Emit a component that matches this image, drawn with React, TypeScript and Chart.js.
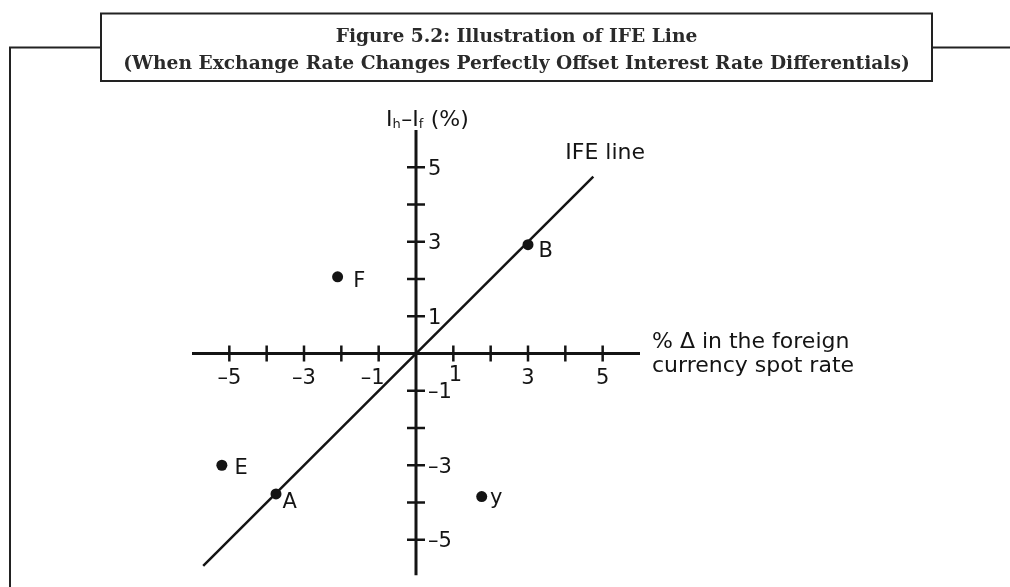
import React, { useEffect, useRef } from "react";
import { Chart, registerables } from "chart.js";

Chart.register(...registerables);

// ---- data ----
const titleLines = [
  "Figure 5.2: Illustration of IFE Line",
  "(When Exchange Rate Changes Perfectly Offset Interest Rate Differentials)",
];
const xTickValues = [-5, -4, -3, -2, -1, 1, 2, 3, 4, 5];
const yTickValues = [-5, -4, -3, -2, -1, 1, 2, 3, 4, 5];
const xLabelValues = [-5, -3, -1, 1, 3, 5];
const xTickLabels = ["–5", "–3", "–1", "1", "3", "5"];
const yLabelValues = [5, 3, 1, -1, -3, -5];
const yTickLabels = ["5", "3", "1", "–1", "–3", "–5"];
const ifeX = [-5.7, 4.75];
const ifeY = [-5.7, 4.75];
const pointNames = ["F", "B", "E", "A", "y"];
const pointX = [-2.1, 3, -5.2, -3.75, 1.76];
const pointY = [2.06, 2.92, -3, -3.77, -3.84];
const lineLabel = "IFE line";
const xAxisTitle = ["% Δ in the foreign", "currency spot rate"];

// label placement (style, not data)
const labelOffsets: Record<string, [number, number]> = {
  F: [15.6, 10],
  B: [10.6, 12.6],
  E: [12.6, 8.3],
  A: [6.6, 14.3],
  y: [8.3, 7.3],
};

const INK = "#141414";
const SANS = "'DejaVu Sans', sans-serif";
const SERIF = "'DejaVu Serif', serif";

const figurePlugin = {
  id: "figurePlugin",
  beforeDatasetsDraw(chart: any) {
    const { ctx, scales } = chart;
    const xs = scales.x;
    const ys = scales.y;
    const x0 = xs.getPixelForValue(0);
    const y0 = ys.getPixelForValue(0);
    ctx.save();
    ctx.strokeStyle = INK;
    ctx.lineCap = "butt";
    // axes
    ctx.lineWidth = 3;
    ctx.beginPath();
    ctx.moveTo(xs.getPixelForValue(-6), y0);
    ctx.lineTo(xs.getPixelForValue(6), y0);
    ctx.moveTo(x0, ys.getPixelForValue(6));
    ctx.lineTo(x0, ys.getPixelForValue(-5.95));
    ctx.stroke();
    // ticks
    ctx.lineWidth = 2.5;
    ctx.beginPath();
    xTickValues.forEach((v) => {
      const px = xs.getPixelForValue(v);
      ctx.moveTo(px, y0 - 8);
      ctx.lineTo(px, y0 + 8);
    });
    yTickValues.forEach((v) => {
      const py = ys.getPixelForValue(v);
      ctx.moveTo(x0 - 9, py);
      ctx.lineTo(x0 + 9, py);
    });
    ctx.stroke();
    // tick labels
    ctx.fillStyle = INK;
    ctx.font = `21px ${SANS}`;
    ctx.textBaseline = "alphabetic";
    ctx.textAlign = "center";
    xLabelValues.forEach((v, i) => {
      let dx = 0;
      let dy = 0;
      if (v === -1) dx = -6;
      if (v === 1) {
        dx = 2;
        dy = -3;
      }
      ctx.fillText(xTickLabels[i], xs.getPixelForValue(v) + dx, y0 + 30 + dy);
    });
    ctx.textAlign = "left";
    yLabelValues.forEach((v, i) => {
      ctx.fillText(yTickLabels[i], x0 + 12, ys.getPixelForValue(v) + 7.5);
    });
    ctx.restore();
  },
  afterDatasetsDraw(chart: any) {
    const { ctx, scales } = chart;
    const xs = scales.x;
    const ys = scales.y;
    const x0 = xs.getPixelForValue(0);
    ctx.save();
    ctx.fillStyle = INK;
    ctx.textBaseline = "alphabetic";
    ctx.textAlign = "left";
    // point labels
    ctx.font = `21px ${SANS}`;
    pointNames.forEach((n, i) => {
      const off = labelOffsets[n] || [8, 7];
      ctx.fillText(
        n,
        xs.getPixelForValue(pointX[i]) + off[0],
        ys.getPixelForValue(pointY[i]) + off[1]
      );
    });
    // IFE line label
    ctx.font = `22px ${SANS}`;
    const endX = xs.getPixelForValue(ifeX[1]);
    const endY = ys.getPixelForValue(ifeY[1]);
    ctx.fillText(lineLabel, endX - 28, endY - 18);
    // x axis title
    const xEnd = xs.getPixelForValue(6);
    const y0 = ys.getPixelForValue(0);
    ctx.fillText(xAxisTitle[0], xEnd + 12, y0 - 6);
    ctx.fillText(xAxisTitle[1], xEnd + 12, y0 + 18.5);
    // y axis title: I_h–I_f (%)
    const yTop = ys.getPixelForValue(6);
    let cx = x0 - 30;
    const base = yTop - 4;
    const big = `22px ${SANS}`;
    const small = `13px ${SANS}`;
    const parts: [string, boolean][] = [
      ["I", false],
      ["h", true],
      ["–I", false],
      ["f", true],
      [" (%)", false],
    ];
    parts.forEach(([t, sub]) => {
      ctx.font = sub ? small : big;
      ctx.fillText(t, cx, sub ? base + 2 : base);
      cx += ctx.measureText(t).width + (sub ? 0.5 : 0);
    });
    ctx.restore();
  },
  afterDraw(chart: any) {
    const { ctx } = chart;
    ctx.save();
    ctx.strokeStyle = "#222";
    ctx.lineWidth = 2;
    // outer frame
    ctx.beginPath();
    ctx.moveTo(10, 587);
    ctx.lineTo(10, 47.5);
    ctx.lineTo(101, 47.5);
    ctx.moveTo(932, 47.5);
    ctx.lineTo(1010, 47.5);
    ctx.stroke();
    ctx.strokeRect(101, 13.5, 831, 67.5);
    // title, sized so the long line spans the box like the reference
    ctx.fillStyle = "#2a2a2a";
    ctx.textAlign = "center";
    ctx.textBaseline = "alphabetic";
    ctx.font = `bold 18px ${SERIF}`;
    const w = ctx.measureText(titleLines[1]).width;
    const size = Math.min(19, (18 * 787) / w);
    ctx.font = `bold ${size.toFixed(2)}px ${SERIF}`;
    ctx.fillText(titleLines[0], 516.5, 41.5);
    ctx.fillText(titleLines[1], 516.5, 68.5);
    ctx.restore();
  },
};

export default function App() {
  const ref = useRef<HTMLCanvasElement | null>(null);
  useEffect(() => {
    if (!ref.current) return;
    const chart = new Chart(ref.current, {
      type: "scatter",
      data: {
        datasets: [
          {
            type: "line",
            label: lineLabel,
            data: ifeX.map((x, i) => ({ x, y: ifeY[i] })),
            borderColor: INK,
            borderWidth: 2.5,
            pointRadius: 0,
            fill: false,
          },
          {
            type: "scatter",
            label: "points",
            data: pointX.map((x, i) => ({ x, y: pointY[i] })),
            backgroundColor: INK,
            borderColor: INK,
            pointRadius: 5.5,
            borderWidth: 0,
          },
        ],
      },
      options: {
        animation: false,
        responsive: true,
        maintainAspectRatio: false,
        layout: { padding: { left: 192, right: 370, top: 130, bottom: 10 } },
        plugins: { legend: { display: false }, tooltip: { enabled: false } },
        scales: {
          x: { type: "linear", min: -6, max: 6, display: false },
          y: { type: "linear", min: -6, max: 6, display: false },
        },
      },
      plugins: [figurePlugin],
    });
    return () => chart.destroy();
  }, []);
  return (
    <div
      style={{
        position: "absolute",
        left: 0,
        top: 0,
        width: 1010,
        height: 587,
        background: "#fff",
      }}
    >
      <canvas ref={ref} />
    </div>
  );
}
